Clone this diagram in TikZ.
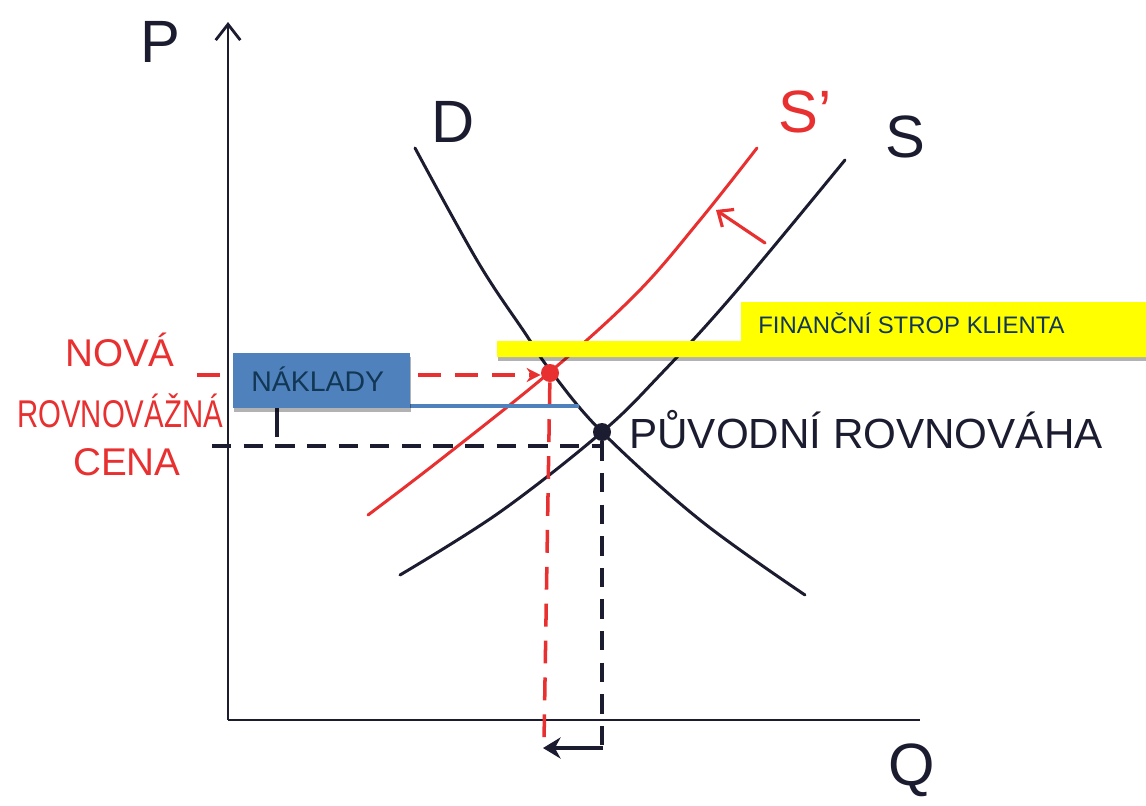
\documentclass[tikz,border=0pt]{standalone}
\usepackage{fontspec}
\setmainfont{Liberation Sans}
\usetikzlibrary{arrows.meta,shadows}
\definecolor{inkblack}{RGB}{28,28,48}
\definecolor{inkred}{RGB}{232,48,48}
\definecolor{boxblue}{RGB}{79,129,189}
\definecolor{boxtext}{RGB}{18,55,85}
\definecolor{hiyellow}{RGB}{255,255,0}
\begin{document}
\begin{tikzpicture}[x=0.02cm,y=-0.02cm,
  curve/.style={line width=1.7pt,line cap=round},
  axisline/.style={line width=1.4pt,inkblack},
  blackdash/.style={line width=2.2pt,inkblack,dash pattern=on 11pt off 7pt},
  reddash/.style={line width=2pt,inkred,dash pattern=on 13pt off 8pt},
  hand/.style={inner sep=0pt,font=\fontsize{22}{26}\selectfont},
  bighand/.style={inner sep=0pt,font=\fontsize{34}{38}\selectfont},
  eqdot/.style={circle,fill,inner sep=0pt,minimum size=0.36cm},
  boxlabel/.style={inner sep=0pt,anchor=west,text=boxtext}]
\useasboundingbox (0,0) rectangle (1146,805);
\fill[white] (0,0) rectangle (1146,805);

% axes
\coordinate (O) at (228,720);
\coordinate (Ptop) at (228,22);
\coordinate (Qend) at (920,720);
\draw[axisline,-{Straight Barb[length=9pt,width=14pt,line width=1.6pt]}] (O) -- (Ptop);
\draw[axisline] (O) -- (Qend);
\node[bighand,text=inkblack] (Plab) at (160,42) {P};
\node[bighand,text=inkblack] (Qlab) at (912,770) {Q};

% curves
\draw[curve,inkblack] plot[smooth,tension=0.6] coordinates {(415,148) (478,262) (525,333) (550,370) (602,432) (700,520) (805,595)};
\draw[curve,inkblack] plot[smooth,tension=0.6] coordinates {(400,575) (500,512) (602,432) (660,375) (733,295) (845,160)};
\draw[curve,inkred] plot[smooth,tension=0.6] coordinates {(368,515) (440,460) (550,372) (637,293) (700,220) (757,148)};
\node[bighand,text=inkblack] (Dlab) at (453,122) {D};
\node[bighand,text=inkblack] (Slab) at (905,137) {S};
\node[bighand,text=inkred] (S1lab) at (805,112) {S'};

% equilibria
\node[eqdot,inkblack] (E0) at (602,432) {};
\node[eqdot,inkred] (E1) at (550,373) {};

% dashed guides
\coordinate (R0) at (197,375);
\coordinate (Rb) at (544,742);
\coordinate (B0) at (212,446);
\coordinate (Bb) at (602,745);
\draw[reddash,-{Stealth[length=8pt,width=8pt]}] (R0) -- (R0 -| E1.west);
\draw[reddash] (E1) -- (Rb);
\draw[blackdash] (B0) -- (B0 -| E0);
\draw[blackdash] (E0) -- (Bb);

% shift arrows
\coordinate (sa) at (765,243);
\coordinate (sb) at (716,210);
\draw[inkred,line width=1.8pt,line cap=round,-{Straight Barb[length=7pt,width=12pt,line width=1.8pt]}] (sa) -- (sb);
\coordinate (qa) at (603,748);
\coordinate (qb) at (543,748);
\draw[inkblack,line width=2.4pt,-{Stealth[length=10pt,width=12pt]}] (qa) -- (qb);
\coordinate (ta) at (277,437);
\coordinate (tb) at (277,404);
\draw[inkblack,line width=2.2pt] (ta) -- (tb);

% handwritten labels
\node[hand,text=inkblack,font=\fontsize{24}{28}\selectfont] (orig) at (866,430) {PŮVODNÍ ROVNOVÁHA};
\node[hand,text=inkred] (nova) at (120,350) {NOVÁ};
\node[hand,text=inkred,xscale=0.76] (rovn) at (120,411) {ROVNOVÁŽNÁ};
\node[hand,text=inkred] (cena) at (127,462) {CENA};

% yellow box
\fill[hiyellow,drop shadow={shadow xshift=0.6pt,shadow yshift=-2.2pt,opacity=0.3,fill=black}]
  (741,302) -- (1146,302) -- (1146,357) -- (497,357) -- (497,341) -- (741,341) -- cycle;
\node[boxlabel,font=\fontsize{13.6}{16}\selectfont] (strop) at (758,323) {FINANČNÍ STROP KLIENTA};

% blue box
\draw[boxblue,line width=1.8pt] (409,406) -- (579,406);
\fill[boxblue,drop shadow={shadow xshift=0.6pt,shadow yshift=-2.2pt,opacity=0.3,fill=black}]
  (233,353) rectangle (410,408);
\node[boxlabel,font=\fontsize{16.2}{19}\selectfont] (naklady) at (251,379) {NÁKLADY};
\end{tikzpicture}
\end{document}
